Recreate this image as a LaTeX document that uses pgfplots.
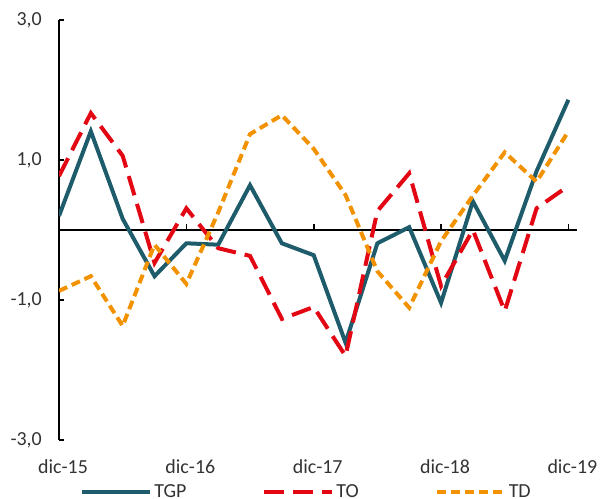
\documentclass[border=0pt]{standalone}
\usepackage{fontspec}
\setmainfont{Carlito}
\usepackage{pgfplots}
\pgfplotsset{compat=1.18}
\definecolor{cTGP}{HTML}{1F5C6B}
\definecolor{cTO}{HTML}{E30613}
\definecolor{cTD}{HTML}{F39200}
\begin{document}
\begin{tikzpicture}
\useasboundingbox (-59bp,-59bp) rectangle (542bp,440bp);
\begin{axis}[
    at={(0,0)}, anchor=south west,
    scale only axis, width=518bp, height=420bp,
    xmin=0, xmax=16.27, ymin=-3, ymax=3,
    axis y line=left, axis x line=bottom,
    axis line style={-, line width=1.6bp},
    x axis line style={draw=none},
    xtick={0,4,8,12,16},
    xticklabels={dic-15,dic-16,dic-17,dic-18,dic-19},
    x tick style={draw=none},
    ytick={-3,-1,1,3},
    y tick style={line width=1.6bp, black},
    tick align=inside, major tick length=5bp,
    font=\fontsize{20}{24}\selectfont,
    /pgf/number format/assume math mode=true,
    /pgf/number format/.cd, use comma, fixed, fixed zerofill, precision=1,
    /pgfplots/.cd,
    y tick label style={anchor=east, inner sep=0pt, xshift=-17bp, text=black!80},
    x tick label style={anchor=center, inner sep=0pt, yshift=-27bp, xshift=4bp, text=black!80},
    legend columns=3,
    legend style={at={(0.478,-0.124)}, anchor=center, draw=none, fill=none,
        font=\fontsize{20}{24}\selectfont, text=black!80,
        /tikz/every even column/.append style={column sep=74bp}},
    legend image code/.code={\draw[#1] (0bp,0bp) -- (68bp,0bp);},
]
\addplot[black, line width=1.6bp, forget plot] coordinates {(0,0) (16.27,0)};
\addplot[cTGP, line width=4bp] coordinates {
(0,0.20) (1,1.41) (2,0.16) (3,-0.66) (4,-0.19) (5,-0.21) (6,0.64) (7,-0.19)
(8,-0.36) (9,-1.61) (10,-0.19) (11,0.04) (12,-1.04) (13,0.41) (14,-0.44)
(15,0.84) (16,1.86)};
\addlegendentry{TGP}
\addplot[cTO, line width=4bp, dash pattern=on 20bp off 9bp] coordinates {
(0,0.77) (1,1.67) (2,1.06) (3,-0.47) (4,0.31) (5,-0.26) (6,-0.37) (7,-1.27)
(8,-1.10) (9,-1.80) (10,0.27) (11,0.81) (12,-0.80) (13,0.00) (14,-1.16)
(15,0.31) (16,0.63)};
\addlegendentry{TO}
\addplot[cTD, line width=4bp, dash pattern=on 9bp off 5bp] coordinates {
(0,-0.87) (1,-0.66) (2,-1.37) (3,-0.21) (4,-0.77) (5,0.25) (6,1.37) (7,1.64)
(8,1.16) (9,0.50) (10,-0.59) (11,-1.11) (12,-0.16) (13,0.49) (14,1.11)
(15,0.69) (16,1.41)};
\addlegendentry{TD}
\pgfplotsinvokeforeach{4,8,12,16}{
  \draw[black, line width=1.6bp] (axis cs:#1,0) -- (axis cs:#1,0.085);
}
\end{axis}
\end{tikzpicture}
\end{document}
